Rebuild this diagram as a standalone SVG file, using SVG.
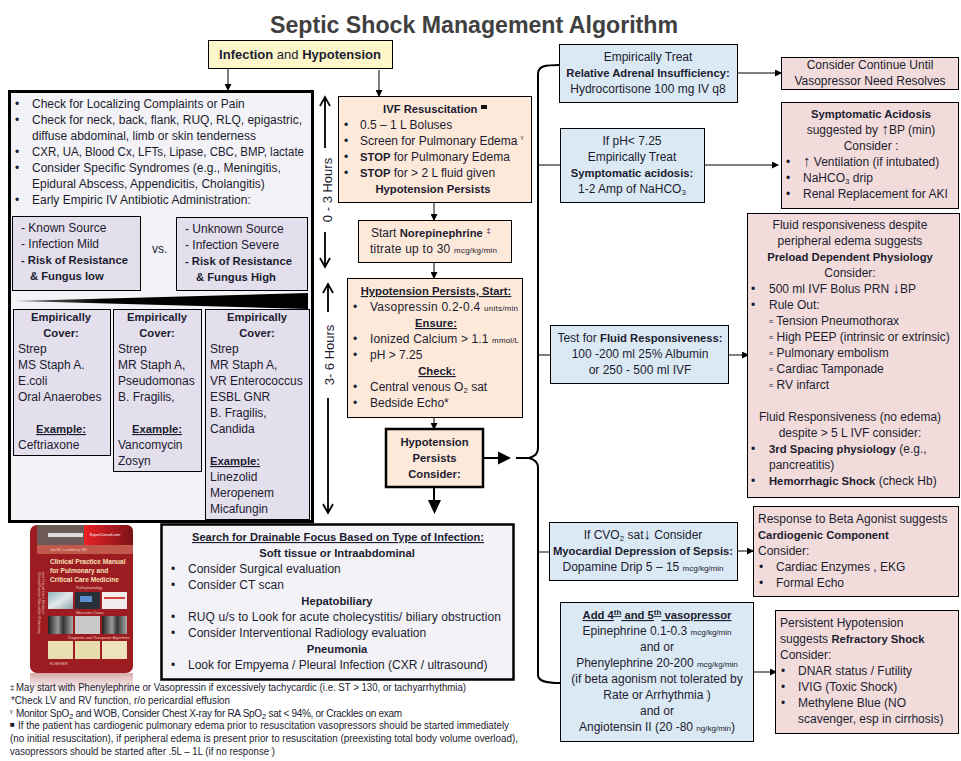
<svg xmlns="http://www.w3.org/2000/svg" width="961" height="761" viewBox="0 0 961 761">
<style>
text{font-family:"Liberation Sans",Arial,sans-serif;font-size:12px;fill:#1c1c30}
.c{text-anchor:middle}
.b{font-weight:700;font-size:11.250px}
.u{text-decoration:underline}
.s{font-size:8px}
.sub{font-size:8px;baseline-shift:-2px}
.sup{font-size:8px;baseline-shift:4px}
.ar{font-size:15px}
.f{font-size:10px}
.yl{fill:#fdf6c9;stroke:#000;stroke-width:1}
.gr{fill:#f3f3f7;stroke:#000;stroke-width:3}
.pu{fill:#e4dfec;stroke:#000;stroke-width:1}
.or{fill:#fde9d9;stroke:#000;stroke-width:1}
.bl{fill:#dbe9f4;stroke:#000;stroke-width:1}
.pk{fill:#f2dcdb;stroke:#000;stroke-width:1}
.ln{fill:none;stroke:#000;stroke-width:1}
.th{fill:none;stroke:#000;stroke-width:2}
.bk{font-size:6.600px;font-weight:700;fill:#f6e0b8}
.bs{font-size:3.600px;fill:#f0d0c0}
</style>
<defs>
<marker id="a" markerWidth="7" markerHeight="7" refX="6" refY="3.500" orient="auto" markerUnits="userSpaceOnUse"><path d="M0 0L7 3.500L0 7z" fill="#000"/></marker>
<linearGradient id="w" x1="0" x2="1" y1="0" y2="0"><stop offset="0" stop-color="#777"/><stop offset=".3" stop-color="#000"/></linearGradient>
<linearGradient id="r" x1="0" x2="0" y1="0" y2="1"><stop offset="0" stop-color="#c98a8a" stop-opacity=".75"/><stop offset="1" stop-color="#fff" stop-opacity="0"/></linearGradient>
<linearGradient id="t" x1="0" x2="1" y1="0" y2="0"><stop offset="0" stop-color="#ec2024"/><stop offset="1" stop-color="#7a1418"/></linearGradient>
<linearGradient id="x1" x1="0" x2="1" y1="0" y2="0"><stop offset="0" stop-color="#222"/><stop offset=".4" stop-color="#999"/><stop offset=".6" stop-color="#333"/><stop offset="1" stop-color="#aaa"/></linearGradient>
<linearGradient id="x2" x1="0" x2="1" y1="0" y2="1"><stop offset="0" stop-color="#8fb3bd"/><stop offset=".5" stop-color="#e4e8ea"/><stop offset="1" stop-color="#8fa9b0"/></linearGradient>
</defs>

<text id="title" x="474" y="33" class="c b" style="font-size:23px;fill:#404040" textLength="408" lengthAdjust="spacingAndGlyphs">Septic Shock Management Algorithm</text>

<g id="connectors">
<path class="ln" marker-end="url(#a)" d="M228 68V90"/>
<path class="ln" marker-end="url(#a)" d="M379 70V96"/>
<path class="ln" marker-end="url(#a)" d="M434 203V220"/>
<path class="ln" marker-end="url(#a)" d="M434 262V278"/>
<path class="ln" marker-end="url(#a)" d="M434 417V429"/>
<path class="th" d="M484 458H499"/><path d="M498 451.500L511 458L498 464.500z"/>
<path class="th" d="M516 458H530"/>
<path class="th" d="M434 487V502"/><path d="M428 500H441L434.500 514z"/>
<path class="th" d="M560 65C545 65 538 66 538 74V448C538 454 535 456 529 458C535 460 538 462 538 468V675C538 681 545 683 560 683"/>
<path class="ln" d="M538 165H561M538 355H551M538 552H550"/>
<path class="ln" marker-end="url(#a)" d="M738 73H781"/>
<path class="ln" marker-end="url(#a)" d="M705 165H778"/>
<path class="ln" marker-end="url(#a)" d="M729 355H748"/>
<path class="ln" marker-end="url(#a)" d="M738 551H753"/>
<path class="ln" marker-end="url(#a)" d="M754 672H776"/>
<g id="time-arrows" fill="none" stroke="#000" stroke-width="1.800">
<path d="M325 148V97M320 106L325 97L330 106"/>
<path d="M325 232V267M320 258L325 267L330 258"/>
<path d="M328 312V284M323 293L328 284L333 293"/>
<path d="M328 398V513M323 504L328 513L333 504"/>
</g>
</g>
<text id="t03" transform="translate(332,190) rotate(-90)" class="c" style="font-size:13px">0 - 3 Hours</text>
<text id="t36" transform="translate(334,355) rotate(-90)" class="c" style="font-size:13px">3- 6 Hours</text>

<g id="start"><rect class="yl" x="208.500" y="40.500" width="184" height="28"/>
<text x="300" y="59" class="c" style="font-size:13px"><tspan class="b" style="font-size:13px">Infection</tspan> and <tspan class="b" style="font-size:13px">Hypotension</tspan></text></g>

<g id="assess"><rect class="gr" x="9.500" y="91.500" width="303" height="430"/>
<text x="15" y="108">•</text><text x="32" y="108">Check for Localizing Complaints or Pain</text>
<text x="15" y="124">•</text><text x="32" y="124">Check for neck, back, flank, RUQ, RLQ, epigastric,</text>
<text x="32" y="140">diffuse abdominal, limb or skin tenderness</text>
<text x="15" y="156">•</text><text x="32" y="156" textLength="272" lengthAdjust="spacingAndGlyphs">CXR, UA, Blood Cx, LFTs, Lipase, CBC, BMP, lactate</text>
<text x="15" y="172">•</text><text x="32" y="172">Consider Specific Syndromes (e.g., Meningitis,</text>
<text x="32" y="188">Epidural Abscess, Appendicitis, Cholangitis)</text>
<text x="15" y="204">•</text><text x="32" y="204">Early Empiric IV Antibiotic Administration:</text>
</g>

<g id="known"><rect class="pu" x="12.500" y="216.500" width="128" height="74"/>
<text x="21" y="232">- Known Source</text><text x="21" y="248">- Infection Mild</text>
<text x="21" y="264" class="b">- Risk of Resistance</text><text x="30" y="280" class="b">&amp; Fungus low</text></g>
<text id="vs" x="152" y="253">vs.</text>
<g id="unknown"><rect class="pu" x="176.500" y="217.500" width="131" height="73"/>
<text x="185" y="233">- Unknown Source</text><text x="185" y="249">- Infection Severe</text>
<text x="185" y="265" class="b">- Risk of Resistance</text><text x="196" y="281" class="b">&amp; Fungus High</text></g>
<polygon id="wedge" points="15,301 308,293 308,309" fill="url(#w)"/>

<g id="cover1"><rect class="pu" x="13.500" y="309.500" width="97" height="146"/>
<text x="61" y="321" class="c b">Empirically</text><text x="61" y="337" class="c b">Cover:</text>
<text x="18" y="353">Strep</text><text x="18" y="369">MS Staph A.</text><text x="18" y="385">E.coli</text><text x="18" y="401">Oral Anaerobes</text>
<text x="61" y="433" class="c b u">Example:</text><text x="18" y="449">Ceftriaxone</text></g>
<g id="cover2"><rect class="pu" x="113.500" y="309.500" width="88" height="162"/>
<text x="157" y="321" class="c b">Empirically</text><text x="157" y="337" class="c b">Cover:</text>
<text x="118" y="353">Strep</text><text x="118" y="369">MR Staph A,</text><text x="118" y="385">Pseudomonas</text><text x="118" y="401">B. Fragilis,</text>
<text x="157" y="433" class="c b u">Example:</text><text x="118" y="449">Vancomycin</text><text x="118" y="465">Zosyn</text></g>
<g id="cover3"><rect class="pu" x="205.500" y="309.500" width="104" height="210"/>
<text x="257" y="321" class="c b">Empirically</text><text x="257" y="337" class="c b">Cover:</text>
<text x="210" y="353">Strep</text><text x="210" y="369">MR Staph A,</text><text x="210" y="385">VR Enterococcus</text><text x="210" y="401">ESBL GNR</text><text x="210" y="417">B. Fragilis,</text><text x="210" y="433">Candida</text>
<text x="235" y="465" class="c b u">Example:</text><text x="210" y="481">Linezolid</text><text x="210" y="497">Meropenem</text><text x="210" y="513">Micafungin</text></g>

<g id="ivf"><rect class="or" x="338.500" y="96.500" width="193" height="106"/>
<text x="383" y="113" class="b">IVF Resuscitation</text><rect x="481" y="105" width="6" height="4" fill="#111"/>
<text x="344" y="129">•</text><text x="360" y="129">0.5 – 1 L Boluses</text>
<text x="344" y="145">•</text><text x="360" y="145">Screen for Pulmonary Edema <tspan class="sup">ᵞ</tspan></text>
<text x="344" y="161">•</text><text x="360" y="161"><tspan class="b">STOP</tspan> for Pulmonary Edema</text>
<text x="344" y="177">•</text><text x="360" y="177"><tspan class="b">STOP</tspan> for &gt; 2 L fluid given</text>
<text x="433" y="193" class="c b">Hypotension Persists</text></g>

<g id="norepi"><rect class="or" x="358.500" y="220.500" width="153" height="42"/>
<text x="371" y="237">Start <tspan class="b">Norepinephrine</tspan> <tspan class="sup">‡</tspan></text>
<text x="370" y="253" textLength="127">titrate up to 30 <tspan class="s">mcg/kg/min</tspan></text></g>

<g id="start2"><rect class="or" x="347.500" y="278.500" width="175" height="139"/>
<text x="436" y="295" class="c b u">Hypotension Persists, Start:</text>
<text x="353" y="311">•</text><text x="370" y="311" textLength="148">Vasopressin 0.2-0.4 <tspan class="s">units/min</tspan></text>
<text x="436" y="327" class="c b u">Ensure:</text>
<text x="353" y="343">•</text><text x="370" y="343" textLength="149">Ionized Calcium &gt; 1.1 <tspan class="s">mmol/L</tspan></text>
<text x="353" y="359">•</text><text x="370" y="359">pH &gt; 7.25</text>
<text x="437" y="375" class="c b u">Check:</text>
<text x="353" y="391">•</text><text x="370" y="391">Central venous O<tspan class="sub">2</tspan> sat</text>
<text x="353" y="407">•</text><text x="370" y="407">Bedside Echo*</text></g>

<g id="persist"><rect class="or" x="386" y="429" width="97" height="58" style="stroke-width:2.500"/>
<text x="434.500" y="446" class="c b">Hypotension</text><text x="434.500" y="462" class="c b">Persists</text><text x="434.500" y="478" class="c b">Consider:</text></g>

<g id="drain"><rect class="gr" x="161.500" y="524.500" width="352" height="155" style="stroke-width:2.500"/>
<text x="338" y="541" class="c b u" textLength="292" lengthAdjust="spacingAndGlyphs">Search for Drainable Focus Based on Type of Infection:</text>
<text x="337" y="557" class="c b">Soft tissue or Intraabdominal</text>
<text x="171" y="573">•</text><text x="188" y="573">Consider Surgical evaluation</text>
<text x="171" y="589">•</text><text x="188" y="589">Consider CT scan</text>
<text x="337" y="605" class="c b">Hepatobiliary</text>
<text x="171" y="621">•</text><text x="188" y="621" textLength="313">RUQ u/s to Look for acute cholecystitis/ biliary obstruction</text>
<text x="171" y="637">•</text><text x="188" y="637">Consider Interventional Radiology evaluation</text>
<text x="337" y="653" class="c b">Pneumonia</text>
<text x="171" y="669">•</text><text x="188" y="669">Look for Empyema / Pleural Infection (CXR / ultrasound)</text></g>

<g id="book">
<rect x="30" y="673" width="103" height="30" fill="url(#r)"/>
<rect x="30" y="525" width="103" height="148" rx="7" fill="#9d1c22"/>
<path d="M84 525H126Q133 525 133 532V545H84z" fill="url(#t)"/>
<path d="M37 525H84V545H37z" fill="#6d5a58"/>
<rect x="37" y="545" width="96" height="9" fill="#c0584c"/>
<rect x="48" y="533" width="35" height="4" fill="#ddd"/>
<text x="90" y="536" class="bs" style="fill:#fff">ExpertConsult.com</text>
<text x="50" y="551" class="bs">Joel M. Landsberg, MD</text>
<text x="50" y="564" class="bk">Clinical Practice Manual</text>
<text x="50" y="573" class="bk">for Pulmonary and</text>
<text x="50" y="582" class="bk">Critical Care Medicine</text>
<text transform="translate(38,572) rotate(90)" class="bs">Clinical Practice Manual for Pulmonary</text>
<text transform="translate(42,572) rotate(90)" class="bs">and Critical Care Medicine</text>
<text x="76" y="589" class="bs">Pathophysiology</text>
<rect x="48" y="592" width="25" height="17" fill="url(#x2)"/><rect x="75" y="592" width="25" height="17" fill="#2a3038"/><rect x="80" y="596" width="12" height="6" fill="#5a8fd0"/><rect x="102" y="592" width="25" height="17" fill="#f2ecec"/><rect x="104" y="597" width="21" height="2" fill="#d04040"/>
<text x="76" y="614" class="bs">Worcester Cases</text>
<rect x="48" y="616" width="25" height="18" fill="url(#x1)"/><rect x="75" y="616" width="25" height="18" fill="#c9c9c9"/><rect x="102" y="616" width="25" height="18" fill="url(#x1)"/>
<text x="68" y="639" class="bs">Diagnostic and Therapeutic Algorithms</text>
<rect x="48" y="641" width="25" height="18" fill="#eadfb4"/><rect x="75" y="641" width="25" height="18" fill="#e6dcae"/><rect x="102" y="641" width="25" height="18" fill="#eee2ba"/>
<text x="50" y="665" class="bs">ELSEVIER</text>
</g>

<g id="footnotes">
<text x="10" y="690" class="s">‡</text><text x="16" y="691" class="f" textLength="450" lengthAdjust="spacingAndGlyphs">May start with Phenylephrine or Vasopressin if excessively tachycardic (i.e. ST &gt; 130, or tachyarrhythmia)</text>
<text x="11" y="704" class="f" textLength="219" lengthAdjust="spacingAndGlyphs">*Check LV and RV function, r/o pericardial effusion</text>
<text x="10" y="715" class="s">ᵞ</text><text x="16" y="717" class="f" textLength="386">Monitor SpO<tspan class="sub">2</tspan> and WOB, Consider Chest X-ray for RA SpO<tspan class="sub">2</tspan> sat &lt; 94%, or Crackles on exam</text>
<text x="10" y="727" class="s">■</text><text x="18" y="729" class="f" textLength="491" lengthAdjust="spacingAndGlyphs">If the patient has cardiogenic pulmonary edema prior to resuscitation vasopressors should be started immediately</text>
<text x="10" y="742" class="f" textLength="508" lengthAdjust="spacingAndGlyphs">(no initial resuscitation), if peripheral edema is present prior to resuscitation (preexisting total body volume overload),</text>
<text x="10" y="755" class="f" textLength="265" lengthAdjust="spacingAndGlyphs">vasopressors should be started after .5L – 1L (if no response )</text>
</g>

<g id="adrenal"><rect class="bl" x="559.500" y="44.500" width="178" height="58"/>
<text x="648" y="61" class="c">Empirically Treat</text><text x="648" y="77" class="c b">Relative Adrenal Insufficiency:</text><text x="648" y="93" class="c">Hydrocortisone 100 mg IV q8</text></g>
<g id="continue"><rect class="pk" x="781.500" y="57.500" width="177" height="32"/>
<text x="870" y="69" class="c">Consider Continue Until</text><text x="870" y="85" class="c">Vasopressor Need Resolves</text></g>

<g id="acid"><rect class="bl" x="560.500" y="128.500" width="144" height="74"/>
<text x="632" y="145" class="c">If pH&lt; 7.25</text><text x="632" y="161" class="c">Empirically Treat</text><text x="632" y="177" class="c b">Symptomatic acidosis:</text><text x="632" y="193" class="c">1-2 Amp of NaHCO<tspan class="sub">3</tspan></text></g>
<g id="acidosis"><rect class="pk" x="781.500" y="102.500" width="177" height="106"/>
<text x="871" y="118" class="c b">Symptomatic Acidosis</text><text x="871" y="134" class="c">suggested by <tspan class="ar">↑</tspan>BP (min)</text><text x="871" y="150" class="c">Consider :</text>
<text x="786" y="166">•</text><text x="803" y="166"><tspan class="ar">↑</tspan> Ventilation (if intubated)</text>
<text x="786" y="182">•</text><text x="803" y="182">NaHCO<tspan class="sub">3</tspan> drip</text>
<text x="786" y="198">•</text><text x="803" y="198">Renal Replacement for AKI</text></g>

<g id="fluid"><rect class="bl" x="550.500" y="325.500" width="178" height="58"/>
<text x="640" y="342" class="c">Test for <tspan class="b">Fluid Responsiveness:</tspan></text><text x="640" y="358" class="c">100 -200 ml 25% Albumin</text><text x="640" y="374" class="c">or 250 - 500 ml IVF</text></g>
<g id="preload"><rect class="pk" x="747.500" y="213.500" width="212" height="284"/>
<text x="850" y="229" class="c">Fluid responsiveness despite</text><text x="850" y="245" class="c">peripheral edema suggests</text><text x="850" y="261" class="c b">Preload Dependent Physiology</text><text x="850" y="277" class="c">Consider:</text>
<text x="751" y="293">•</text><text x="769" y="293">500 ml IVF Bolus PRN <tspan class="ar">↓</tspan>BP</text>
<text x="751" y="309">•</text><text x="769" y="309">Rule Out:</text>
<text x="769" y="325">▫ Tension Pneumothorax</text><text x="769" y="341">▫ High PEEP (intrinsic or extrinsic)</text><text x="769" y="357">▫ Pulmonary embolism</text><text x="769" y="373">▫ Cardiac Tamponade</text><text x="769" y="389">▫ RV infarct</text>
<text x="850" y="421" class="c">Fluid Responsiveness (no edema)</text><text x="850" y="437" class="c">despite &gt; 5 L IVF consider:</text>
<text x="751" y="453">•</text><text x="769" y="453"><tspan class="b">3rd Spacing physiology</tspan> (e.g.,</text><text x="769" y="469">pancreatitis)</text>
<text x="751" y="485">•</text><text x="769" y="485"><tspan class="b">Hemorrhagic Shock</tspan> (check Hb)</text></g>

<g id="cvo2"><rect class="bl" x="549.500" y="522.500" width="188" height="58"/>
<text x="643" y="539" class="c">If CVO<tspan class="sub">2</tspan> sat<tspan class="ar">↓</tspan> Consider</text><text x="643" y="555" class="c b">Myocardial Depression of Sepsis:</text><text x="643" y="571" class="c">Dopamine Drip 5 – 15 <tspan class="s">mcg/kg/min</tspan></text></g>
<g id="cardio"><rect class="pk" x="753.500" y="506.500" width="205" height="90"/>
<text x="758" y="523">Response to Beta Agonist suggests</text><text x="758" y="539" class="b">Cardiogenic Component</text><text x="758" y="555">Consider:</text>
<text x="759" y="571">•</text><text x="776" y="571">Cardiac Enzymes , EKG</text><text x="759" y="587">•</text><text x="776" y="587">Formal Echo</text></g>

<g id="vaso"><rect class="bl" x="560.500" y="602.500" width="193" height="139"/>
<text x="657" y="619" class="c b u">Add 4<tspan class="sup">th</tspan> and 5<tspan class="sup">th</tspan> vasopressor</text>
<text x="657" y="635" class="c">Epinephrine 0.1-0.3 <tspan class="s">mcg/kg/min</tspan></text><text x="657" y="651" class="c">and or</text>
<text x="657" y="667" class="c">Phenylephrine 20-200 <tspan class="s">mcg/kg/min</tspan></text>
<text x="657" y="683" class="c">(if beta agonism not tolerated by</text><text x="657" y="699" class="c">Rate or Arrhythmia )</text><text x="657" y="715" class="c">and or</text>
<text x="657" y="731" class="c">Angiotensin II (20 -80 <tspan class="s">ng/kg/min</tspan>)</text></g>
<g id="refractory"><rect class="pk" x="775.500" y="610.500" width="183" height="123"/>
<text x="780" y="627">Persistent Hypotension</text><text x="780" y="643">suggests <tspan class="b">Refractory Shock</tspan></text><text x="780" y="659">Consider:</text>
<text x="781" y="675">•</text><text x="798" y="675">DNAR status / Futility</text><text x="781" y="691">•</text><text x="798" y="691">IVIG (Toxic Shock)</text><text x="781" y="707">•</text><text x="798" y="707">Methylene Blue (NO</text><text x="798" y="723">scavenger, esp in cirrhosis)</text></g>
</svg>
